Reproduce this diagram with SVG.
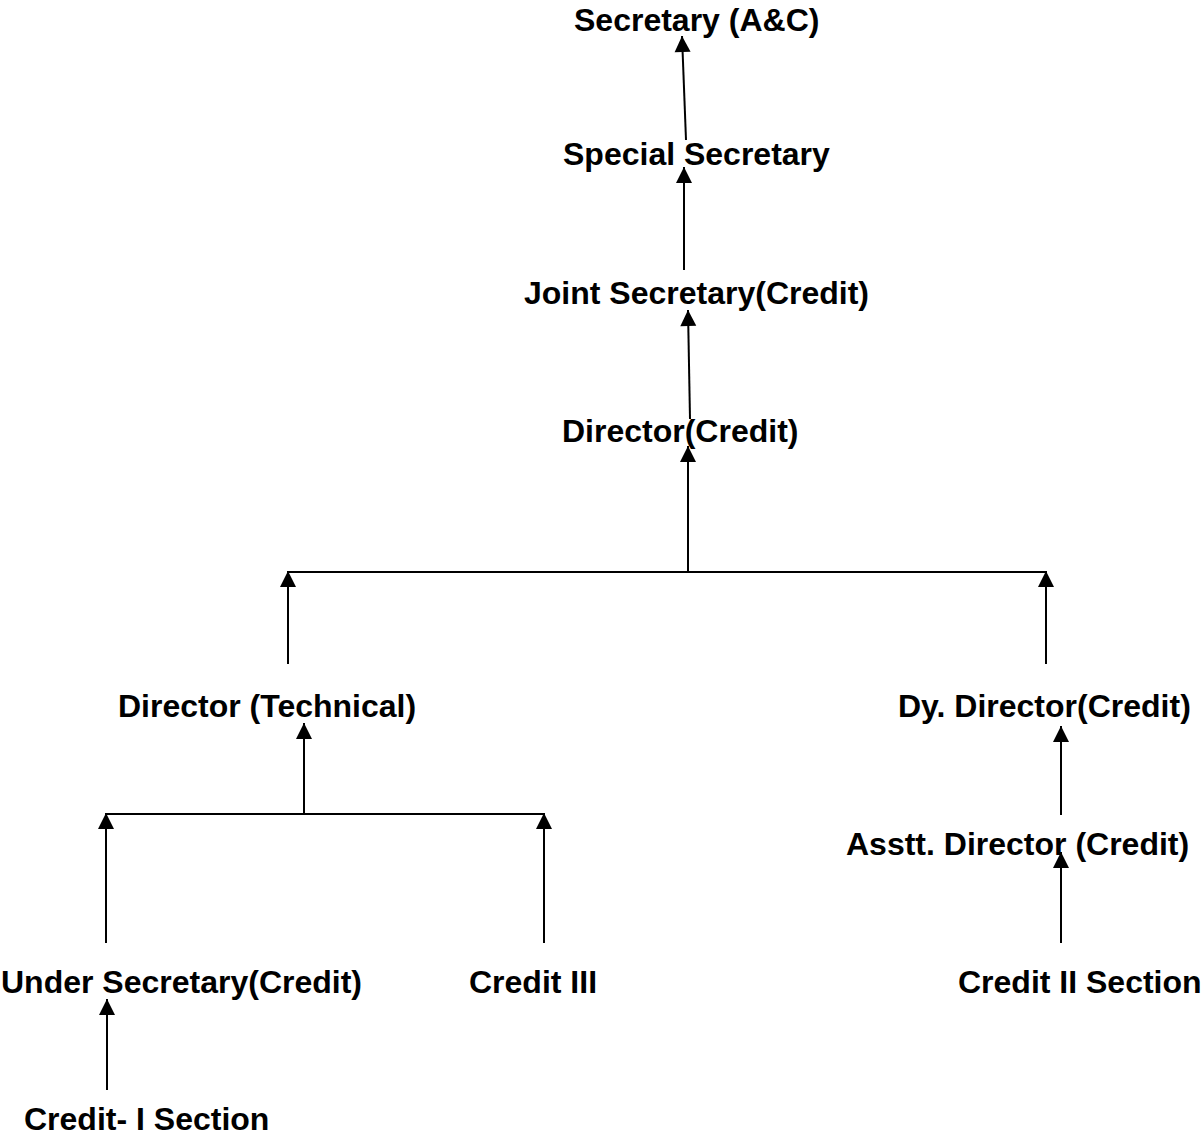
<svg xmlns="http://www.w3.org/2000/svg" width="1202" height="1137" viewBox="0 0 1202 1137">
<style>
.lbl{font-family:"Liberation Sans",Arial,sans-serif;font-weight:bold;font-size:32px;fill:#000}
.ln{stroke:#000;stroke-width:2;fill:none}
.ar{stroke:#000;stroke-width:2;fill:none;marker-end:url(#ah)}
</style>
<defs>
<marker id="ah" markerUnits="userSpaceOnUse" markerWidth="18" markerHeight="18" viewBox="0 0 18 18" refX="17" refY="9" orient="auto">
<path d="M1,1 L17,9 L1,17 Z" fill="#000"/>
</marker>
</defs>
<rect width="1202" height="1137" fill="#fff"/>
<g id="n-secretary"><text class="lbl" x="574" y="31">Secretary (A&amp;C)</text></g>
<g id="n-special"><text class="lbl" x="563" y="165">Special Secretary</text></g>
<g id="n-joint"><text class="lbl" x="524" y="304">Joint Secretary(Credit)</text></g>
<g id="n-director"><text class="lbl" x="562" y="442">Director(Credit)</text></g>
<g id="n-dirtech"><text class="lbl" x="118" y="717">Director (Technical)</text></g>
<g id="n-dydir"><text class="lbl" x="898" y="717">Dy. Director(Credit)</text></g>
<g id="n-asstt"><text class="lbl" x="846" y="855">Asstt. Director (Credit)</text></g>
<g id="n-under"><text class="lbl" x="1" y="993">Under Secretary(Credit)</text></g>
<g id="n-credit3"><text class="lbl" x="469" y="993">Credit III</text></g>
<g id="n-credit2"><text class="lbl" x="958" y="993">Credit II Section</text></g>
<g id="n-credit1"><text class="lbl" x="24" y="1130">Credit- I Section</text></g>
<g id="connectors">
<line class="ar" x1="686" y1="140" x2="682" y2="36"/>
<line class="ar" x1="684" y1="270" x2="684" y2="167"/>
<line class="ar" x1="690" y1="419" x2="688" y2="310"/>
<line class="ar" x1="688" y1="572" x2="688" y2="446"/>
<line class="ln" x1="287" y1="572" x2="1046" y2="572"/>
<line class="ar" x1="288" y1="664" x2="288" y2="571"/>
<line class="ar" x1="1046" y1="664" x2="1046" y2="571"/>
<line class="ar" x1="304" y1="815" x2="304" y2="723"/>
<line class="ln" x1="106" y1="814" x2="544" y2="814"/>
<line class="ar" x1="106" y1="943" x2="106" y2="813"/>
<line class="ar" x1="544" y1="943" x2="544" y2="813"/>
<line class="ar" x1="107" y1="1090" x2="107" y2="999"/>
<line class="ar" x1="1061" y1="815" x2="1061" y2="726"/>
<line class="ar" x1="1061" y1="943" x2="1061" y2="852"/>
</g>
</svg>
